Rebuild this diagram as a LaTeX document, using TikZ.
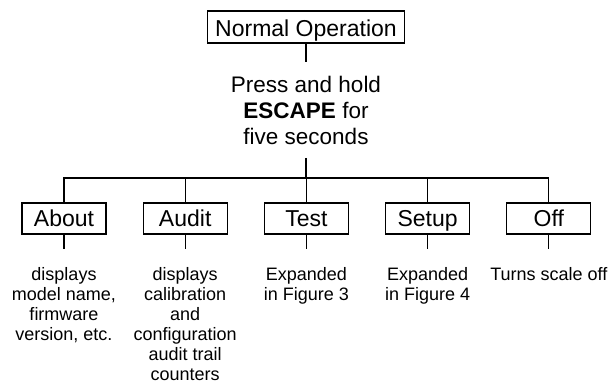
\documentclass[tikz,border=0pt]{standalone}
\usepackage{fontspec}
\setmainfont{Liberation Sans}
\usetikzlibrary{positioning}

\begin{document}
\begin{tikzpicture}[x=1pt, y=-1pt, node distance=36pt, line width=1.2pt]
        % Define block styles
        \tikzstyle{topbox} = [rectangle, draw, minimum height=32pt, inner xsep=7.5pt, inner ysep=0pt, text height=19pt, text depth=0pt, font=\fontsize{23}{26}\selectfont]
        \tikzstyle{menubox} = [rectangle, draw, minimum width=84pt, minimum height=31pt, inner sep=0pt, text height=16pt, text depth=0pt, font=\fontsize{23}{26}\selectfont]
        \tikzstyle{prompt} = [align=center, inner ysep=13pt, font=\fontsize{22.5}{26}\selectfont]
        \tikzstyle{note} = [align=center, inner xsep=0pt, inner ysep=18pt, font=\fontsize{18}{20}\selectfont]
        \tikzstyle{line} = [draw]

        \useasboundingbox (0,0) rectangle (611,383);

        % Define nodes
        \node [topbox] (normal) at (306,27) {Normal Operation};
        \node [prompt] (press) at (306,110) {Press and hold\\\textbf{ESCAPE} for\\five seconds};
        \coordinate (hub) at (306,178);
        \node [menubox] (about) at (64,218.5) {About};
        \node [menubox, right=of about] (audit) {Audit};
        \node [menubox, right=of audit] (test) {Test};
        \node [menubox, right=of test] (setup) {Setup};
        \node [menubox, right=of setup] (off) {Off};

        % Define notes
        \node [note, below=14pt of about] (aboutnote) {displays\\model name,\\firmware\\version, etc.};
        \node [note, below=14pt of audit] (auditnote) {displays\\calibration\\and\\configuration\\audit trail\\counters};
        \node [note, below=14pt of test] (testnote) {Expanded\\in Figure 3};
        \node [note, below=14pt of setup] (setupnote) {Expanded\\in Figure 4};
        \node [note, below=14pt of off] (offnote) {Turns scale off};

        % Connect nodes with paths
        \path [line] (normal) -- (press);
        \path [line] (press) -- (hub);
        \foreach \n in {about, audit, test, setup, off} {
            \path [line] (hub) -| (\n);
            \path [line] (\n) -- (\n note);
        }

    \end{tikzpicture}
\end{document}
